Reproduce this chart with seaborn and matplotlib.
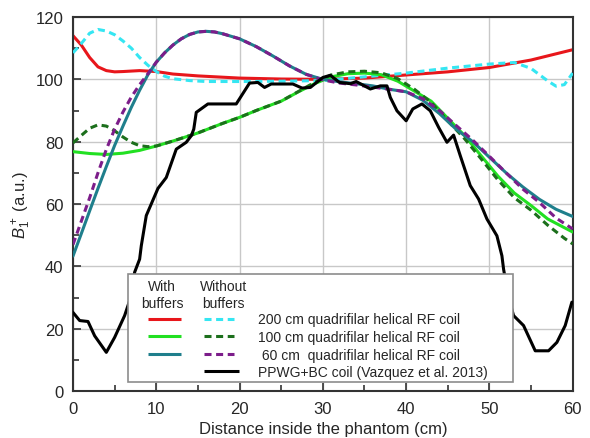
import matplotlib
matplotlib.use("Agg")
import matplotlib.pyplot as plt
import seaborn as sns
import pandas as pd
from matplotlib.legend_handler import HandlerBase
from matplotlib.lines import Line2D
from matplotlib.ticker import MultipleLocator

# ---------------- data ----------------
red_x = [0, 1, 2, 3, 4, 5, 6, 8, 10, 12, 15, 20, 25, 30, 35, 40, 45, 50, 55, 60]
red_y = [114, 111, 107, 104, 102.8, 102.4, 102.5, 102.8, 102.5, 101.7, 101.1, 100.4, 100.1, 100,
         100.4, 101.4, 102.4, 103.8, 106.2, 109.5]

cyan_x = [0, 1, 2, 3, 4, 5, 6, 7, 8, 9, 10, 11, 12, 14, 16, 20, 25, 30, 35, 40, 45, 50, 53, 55, 56, 57,
          58, 59, 60]
cyan_y = [108.5, 111.5, 114.8, 116, 115.5, 114.3, 112.3, 110, 107, 104.5, 102.5, 101, 100.2, 99.6, 99.3,
          99.3, 99.4, 99.6, 100.8, 102, 103.6, 104.9, 105.4, 103.5, 101.5, 99.5, 97.8, 98.3, 102]

green_x = [0, 2, 4, 6, 8, 10, 12, 15, 18, 20, 22, 25, 27, 29, 31, 33, 35, 37, 39, 41, 43, 45, 47, 49, 51,
           53, 55, 57, 60]
green_y = [76.8, 76.2, 75.9, 76.3, 77.2, 78.6, 80.2, 82.8, 85.9, 87.8, 90, 93, 95.9, 98.6, 100.8, 101.8,
           102, 101.5, 99.4, 96.2, 93, 87.5, 82, 75.5, 69, 63.5, 59.5, 55.2, 51]

dgreen_x = [0, 1, 2, 3, 4, 5, 6, 7, 8, 9, 10, 12, 15, 18, 20, 22, 25, 27, 29, 31, 33, 35, 37, 39, 41, 43,
            45, 47, 49, 51, 53, 55, 57, 59, 60]
dgreen_y = [79.6, 82, 84.3, 85.4, 85, 83.5, 81.5, 79.8, 78.7, 78.4, 78.6, 80.2, 82.8, 85.9, 87.8, 90, 93,
            96, 99, 101.4, 102.4, 102.6, 102.1, 100.2, 96.8, 92.6, 86.7, 81, 74.5, 67.8, 62, 58, 53.2,
            49, 47.2]

teal_x = [0, 1, 2, 3, 4, 5, 6, 7, 8, 9, 10, 11, 12, 13, 14, 15, 16, 17, 18, 20, 22, 24, 26, 28, 30, 32,
          34, 36, 38, 40, 42, 44, 46, 48, 50, 52, 54, 56, 58, 60]
teal_y = [43.3, 50.5, 57.8, 65, 72, 78.8, 85, 91, 96.5, 101.5, 105.5, 108.5, 111, 113, 114.4, 115.2,
          115.4, 115.2, 114.6, 113, 110.5, 107.5, 104.3, 101.6, 100, 99.2, 98.6, 97.9, 96.8, 96, 93.3,
          89, 84, 80, 75, 70, 65.5, 61.5, 58.3, 56]

purple_x = [0, 1, 2, 3, 4, 5, 6, 7, 8, 9, 10, 11, 12, 13, 14, 15, 16, 17, 18, 20, 22, 24, 26, 28, 30,
            32, 34, 36, 38, 40, 42, 44, 46, 48, 50, 52, 54, 56, 58, 60]
purple_y = [47, 54.5, 62, 70, 77.5, 84, 89.5, 94.3, 98.3, 101.8, 105.5, 108.5, 111, 113, 114.4, 115.2,
            115.4, 115.2, 114.6, 113, 110.5, 107.5, 104.3, 101.6, 99.8, 98.8, 98.2, 97.5, 96.8, 96,
            93.8, 90, 85.2, 80.5, 75.3, 70, 64.8, 60.5, 55.5, 52]

black_x = [0, 0.8, 1.8, 2.6, 4.0, 5.0, 6.2, 7.0, 7.4, 8.0, 8.2, 8.8, 10.2, 11.2, 12.4, 13.6, 14.2, 14.5,
           14.8, 16.2, 19.6, 21.2, 22.2, 23, 23.8, 26.4, 27.5, 28.5, 30, 30.9, 32, 33.3, 34, 35.7, 36.9,
           37.7, 38.1, 38.9, 40, 40.8, 41.9, 42.9, 43.9, 44.9, 45.7, 46.5, 47.7, 48.7, 49.7, 50.9,
           51.5, 51.7, 52.3, 52.9, 54.1, 55.5, 57.1, 58.1, 59.1, 59.9]
black_y = [25.2, 22.6, 22.3, 17.7, 12.4, 17.2, 24.2, 30.6, 38.1, 42.3, 46.6, 56.3, 65, 68.5, 77.6, 79.8,
           81.9, 84, 89.4, 92.1, 92.1, 98.8, 99, 97.4, 98.5, 98.5, 97.2, 97.4, 100.6, 101.3, 99, 98.6,
           99.3, 96.9, 97.9, 97.9, 94.2, 89.9, 86.7, 90.5, 92.1, 89.9, 84.6, 79.8, 82.1, 75.5, 65.9,
           61.6, 55.2, 49.8, 43.4, 39.1, 30, 24.2, 21, 12.9, 12.9, 15.6, 21, 28.5]

labels = ["200 cm quadrifilar helical RF coil",
          "100 cm quadrifilar helical RF coil",
          " 60 cm  quadrifilar helical RF coil",
          "PPWG+BC coil (Vazquez et al. 2013)"]
header_with = "With\nbuffers"
header_without = "Without\nbuffers"
x_ticks = [0, 10, 20, 30, 40, 50, 60]
y_ticks = [0, 20, 40, 60, 80, 100, 120]

# ---------------- style ----------------
sns.set_style("ticks")
plt.rcParams["font.family"] = ["Liberation Sans", "DejaVu Sans"]
plt.rcParams["mathtext.fontset"] = "custom"
plt.rcParams["mathtext.rm"] = "Liberation Sans"
plt.rcParams["mathtext.it"] = "Liberation Sans:italic"

fig = plt.figure(figsize=(5.9, 4.39), dpi=100)
ax = fig.add_axes([73 / 590, 1 - 392 / 439, (572.7 - 73) / 590, (392 - 18) / 439])

LW = 2.2
DASH = (2.3, 1.5)
C_RED, C_CYAN, C_GREEN = "#e8161b", "#35e6f2", "#22e022"
C_DGREEN, C_TEAL, C_PURPLE, C_BLACK = "#1c6f1c", "#1f7f8c", "#7c1d8a", "#000000"
series = [
    (red_x, red_y, C_RED, None),
    (cyan_x, cyan_y, C_CYAN, DASH),
    (green_x, green_y, C_GREEN, None),
    (dgreen_x, dgreen_y, C_DGREEN, DASH),
    (teal_x, teal_y, C_TEAL, None),
    (purple_x, purple_y, C_PURPLE, DASH),
    (black_x, black_y, C_BLACK, None),
]
for i, (xs, ys, col, dash) in enumerate(series):
    df = pd.DataFrame({"x": xs, "y": ys})
    sns.lineplot(data=df, x="x", y="y", ax=ax, color=col, lw=LW, estimator=None, zorder=2 + i)
    ln = ax.get_lines()[-1]
    if dash is not None:
        ln.set_dashes(dash)

ax.set_xlim(0, 60)
ax.set_ylim(0, 120)
ax.set_xticks(x_ticks)
ax.set_yticks(y_ticks)
ax.xaxis.set_minor_locator(MultipleLocator(5))
ax.yaxis.set_minor_locator(MultipleLocator(10))
ax.tick_params(which="major", direction="in", length=6, width=1.2, labelsize=12, color="#333333",
               top=False, right=False, pad=7)
ax.tick_params(which="minor", direction="in", length=4, width=1.2, color="#333333",
               top=False, right=False)
ax.grid(True, which="major", color="#c8c8c8", lw=1.0)
ax.set_axisbelow(True)
for sp in ax.spines.values():
    sp.set_visible(True)
    sp.set_color("#333333")
    sp.set_linewidth(1.5)

ax.set_xlabel("Distance inside the phantom (cm)", fontsize=12, labelpad=4)
ax.set_ylabel(r"$B_1^+$ (a.u.)", fontsize=12, labelpad=2)


# ---------------- legend ----------------
class PairHandler(HandlerBase):
    """Draws a (solid, dashed) pair at fixed fractions of the handle box."""
    SEG = [(0.155, 0.455), (0.655, 0.925)]
    SEG_SINGLE = (0.66, 0.97)

    def create_artists(self, legend, orig_handle, xdescent, ydescent, width, height,
                       fontsize, trans):
        y = height / 2.0 - ydescent
        arts = []
        items = list(orig_handle)
        segs = self.SEG if len(items) == 2 else [self.SEG_SINGLE]
        for (col, dashed), (f0, f1) in zip(items, segs):
            ln = Line2D([f0 * width - xdescent, f1 * width - xdescent], [y, y],
                        color=col, lw=LW, solid_capstyle="butt", dash_capstyle="butt")
            if dashed:
                ln.set_dashes(DASH)
            ln.set_transform(trans)
            arts.append(ln)
        return arts


class Pair(tuple):
    pass


handles = [
    Pair(((C_RED, False), (C_CYAN, True))),
    Pair(((C_GREEN, False), (C_DGREEN, True))),
    Pair(((C_TEAL, False), (C_PURPLE, True))),
    Pair(((C_BLACK, False),)),
]
leg = ax.legend(handles, labels, handler_map={Pair: PairHandler()},
                loc="lower left", bbox_to_anchor=(0.11, 0.024, 0.77, 0.3), mode="expand",
                borderaxespad=0, fontsize=10, handlelength=8.0, handletextpad=1.15,
                labelspacing=0.26, borderpad=0.2, frameon=True, fancybox=False, framealpha=1,
                title=" \n ", title_fontsize=12)
leg.get_frame().set_edgecolor("#8c8c8c")
leg.get_frame().set_linewidth(1.2)
leg.set_zorder(20)

for txt, xc in [(header_with, 10.7), (header_without, 18.1)]:
    ax.text(xc, 31.0, txt, ha="center", va="center", fontsize=10, linespacing=1.25, zorder=30)

fig.savefig("out.png", dpi=100)
